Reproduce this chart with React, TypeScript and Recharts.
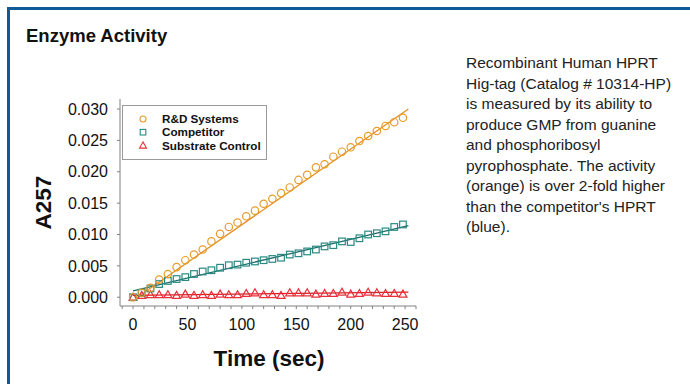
import React from 'react';
import { ComposedChart, Scatter, Line, XAxis, YAxis, Label } from 'recharts';

// time points (sec)
const times = [0, 8, 16, 24, 32, 40, 48, 56, 64, 72, 80, 88, 96, 104, 112, 120, 128, 136, 144, 152, 160, 168, 176, 184, 192, 200, 208, 216, 224, 232, 240, 248];

// A257 readings
const rndValues = [0.0000, 0.0007, 0.0015, 0.0028, 0.0037, 0.0048, 0.0059, 0.0068, 0.0076, 0.0089, 0.0101, 0.0112, 0.0119, 0.0129, 0.0138, 0.0149, 0.0157, 0.0166, 0.0175, 0.0187, 0.0195, 0.0207, 0.0212, 0.0224, 0.0232, 0.0239, 0.0249, 0.0257, 0.0265, 0.0273, 0.0279, 0.0286];
const competitorValues = [0.0000, 0.0007, 0.0014, 0.0021, 0.0026, 0.0029, 0.0032, 0.0037, 0.0041, 0.0043, 0.0047, 0.0051, 0.0052, 0.0055, 0.0057, 0.0059, 0.0061, 0.0063, 0.0068, 0.0070, 0.0073, 0.0076, 0.0081, 0.0083, 0.0089, 0.0088, 0.0094, 0.0100, 0.0102, 0.0105, 0.0112, 0.0116];
const controlValues = [0.0000, 0.0003, 0.0004, 0.0004, 0.0004, 0.0003, 0.0005, 0.0003, 0.0004, 0.0003, 0.0005, 0.0004, 0.0004, 0.0006, 0.0007, 0.0004, 0.0004, 0.0003, 0.0007, 0.0007, 0.0007, 0.0005, 0.0006, 0.0006, 0.0008, 0.0005, 0.0006, 0.0008, 0.0007, 0.0006, 0.0006, 0.0005];

// linear fits: [start, end] in (t, v)
const rndFit = [[4, 0.0], [253, 0.0300]];
const competitorFit = [[0, 0.0010], [253, 0.0114]];
const controlFit = [[0, 0.0003], [253, 0.0008]];

const xTicks = [-10, 0, 10, 20, 30, 40, 50, 60, 70, 80, 90, 100, 110, 120, 130, 140, 150, 160, 170, 180, 190, 200, 210, 220, 230, 240, 250, 260];
const yTicks = [0, 0.005, 0.01, 0.015, 0.02, 0.025, 0.03];

const descriptionLines = [
  'Recombinant Human HPRT',
  'Hig-tag (Catalog # 10314-HP)',
  'is measured by its ability to',
  'produce GMP from guanine',
  'and phosphoribosyl',
  'pyrophosphate. The activity',
  '(orange) is over 2-fold higher',
  "than the competitor's HPRT",
  '(blue).',
];

const ORANGE = '#E89A2C';
const ORANGE_LINE = '#E3901E';
const TEAL = '#2A8A82';
const TEAL_LINE = '#1B6E6A';
const RED = '#E8303A';
const RED_LINE = '#E01A22';
const FONT = '"Liberation Sans", Arial, sans-serif';

const toPoints = (vals: number[]) => times.map((t, i) => ({ t, v: vals[i] }));
const toFit = (f: number[][]) => f.map(([t, v]) => ({ t, v }));

const CircleMark = (p: any) => (
  <circle cx={p.cx} cy={p.cy} r={3.7} fill="none" stroke={ORANGE} strokeWidth={1.2} />
);
const SquareMark = (p: any) => (
  <rect x={p.cx - 3.3} y={p.cy - 3.3} width={6.6} height={6.6} fill="none" stroke={TEAL} strokeWidth={1.2} />
);
const TriangleMark = (p: any) => (
  <polygon
    points={`${p.cx},${p.cy - 4} ${p.cx - 4},${p.cy + 3} ${p.cx + 4},${p.cy + 3}`}
    fill="none"
    stroke={RED}
    strokeWidth={1.2}
  />
);

const XTick = (p: any) => {
  const v = p.payload.value;
  if (v % 50 !== 0 || v < 0 || v > 250) return null;
  return (
    <text x={p.x} y={p.y + 19} textAnchor="middle" fontSize={16} fill="#111" fontFamily={FONT}>
      {v}
    </text>
  );
};

const legendItems = [
  { name: 'R&D Systems', kind: 'circle' },
  { name: 'Competitor', kind: 'square' },
  { name: 'Substrate Control', kind: 'triangle' },
];

function Legend() {
  return (
    <svg width={146} height={56} style={{ position: 'absolute', left: 122, top: 105 }}>
      <rect x={0.5} y={0.5} width={144} height={54} fill="#fff" stroke="#9a9a9a" />
      {legendItems.map((it, i) => {
        const cy = 14 + i * 13.2;
        const cx = 21;
        return (
          <g key={it.name}>
            {it.kind === 'circle' && <circle cx={cx} cy={cy} r={3} fill="none" stroke={ORANGE} strokeWidth={1.1} />}
            {it.kind === 'square' && (
              <rect x={cx - 2.8} y={cy - 2.8} width={5.6} height={5.6} fill="none" stroke={TEAL} strokeWidth={1.1} />
            )}
            {it.kind === 'triangle' && (
              <polygon points={`${cx},${cy - 3.5} ${cx - 3.5},${cy + 2.7} ${cx + 3.5},${cy + 2.7}`} fill="none" stroke={RED} strokeWidth={1.1} />
            )}
            <text x={40} y={cy} dy="0.36em" fontSize={11.7} fontWeight="bold" fill="#111" fontFamily={FONT}>
              {it.name}
            </text>
          </g>
        );
      })}
    </svg>
  );
}

export default function App() {
  return (
    <div style={{ position: 'absolute', left: 0, top: 0, width: 690, height: 384, overflow: 'hidden', background: '#fff', fontFamily: FONT }}>
      <div style={{ position: 'absolute', left: 7, top: 7, width: 700, height: 400, borderTop: '3px solid #0B5A99', borderLeft: '3px solid #0B5A99' }} />
      <div style={{ position: 'absolute', left: 26, top: 25, fontSize: 18.5, fontWeight: 'bold', color: '#111' }}>Enzyme Activity</div>

      <div style={{ position: 'absolute', left: 0, top: 0 }}>
        <ComposedChart width={450} height={384} margin={{ top: 99, right: 34, left: 60, bottom: 48 }}>
          <XAxis
            type="number"
            dataKey="t"
            domain={[-12, 260]}
            ticks={xTicks}
            interval={0}
            height={30}
            stroke="#808080"
            tickLine={{ stroke: '#808080' }}
            tickSize={3}
            tick={<XTick />}
            allowDataOverflow
          >
            <Label
              content={(p: any) => (
                <text x={p.viewBox.x + p.viewBox.width / 2 + 1} y={358} dominantBaseline="central" textAnchor="middle" fontSize={22.5} fontWeight="bold" fill="#111" fontFamily={FONT}>
                  Time (sec)
                </text>
              )}
            />
          </XAxis>
          <YAxis
            type="number"
            dataKey="v"
            domain={[-0.0014, 0.0316]}
            ticks={yTicks}
            interval={0}
            width={60}
            stroke="#808080"
            tickSize={3}
            tickMargin={9}
            tickFormatter={(v: number) => v.toFixed(3)}
            tick={{ fontSize: 16, fill: '#111', fontFamily: FONT }}
            allowDataOverflow
          >
            <Label
              content={(p: any) => (
                <text x={43} y={p.viewBox.y + p.viewBox.height / 2} dominantBaseline="central" textAnchor="middle" fontSize={22.5} fontWeight="bold" fill="#111" fontFamily={FONT} transform={`rotate(-90 43 ${p.viewBox.y + p.viewBox.height / 2})`}>
                  A257
                </text>
              )}
            />
          </YAxis>
          <Scatter data={toPoints(controlValues)} dataKey="v" shape={TriangleMark} isAnimationActive={false} />
          <Scatter data={toPoints(competitorValues)} dataKey="v" shape={SquareMark} isAnimationActive={false} />
          <Scatter data={toPoints(rndValues)} dataKey="v" shape={CircleMark} isAnimationActive={false} />
          <Line data={toFit(controlFit)} dataKey="v" stroke={RED_LINE} strokeWidth={1.3} dot={false} activeDot={false} isAnimationActive={false} />
          <Line data={toFit(competitorFit)} dataKey="v" stroke={TEAL_LINE} strokeWidth={1.3} dot={false} activeDot={false} isAnimationActive={false} />
          <Line data={toFit(rndFit)} dataKey="v" stroke={ORANGE_LINE} strokeWidth={1.3} dot={false} activeDot={false} isAnimationActive={false} />
        </ComposedChart>
      </div>

      <Legend />

      <div style={{ position: 'absolute', left: 466, top: 53, fontSize: 15.5, lineHeight: '20.5px', color: '#222' }}>
        {descriptionLines.map((l) => (
          <div key={l} style={{ whiteSpace: 'nowrap' }}>{l}</div>
        ))}
      </div>
    </div>
  );
}
